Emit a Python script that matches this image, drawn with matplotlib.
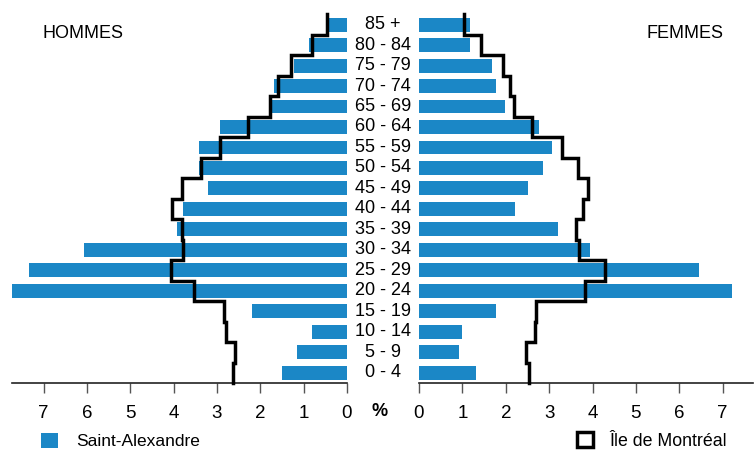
import numpy as np
import matplotlib.pyplot as plt
from matplotlib.patches import Patch

# Age groups, bottom to top
ages = ["0 - 4", "5 - 9", "10 - 14", "15 - 19", "20 - 24", "25 - 29", "30 - 34",
        "35 - 39", "40 - 44", "45 - 49", "50 - 54", "55 - 59", "60 - 64",
        "65 - 69", "70 - 74", "75 - 79", "80 - 84", "85 +"]

# Saint-Alexandre (% of population)
sa_hommes = [1.49, 1.15, 0.80, 2.19, 7.72, 7.34, 6.07, 3.92, 3.78, 3.20,
             3.41, 3.41, 2.93, 1.81, 1.68, 1.22, 0.88, 0.42]
sa_femmes = [1.31, 0.92, 0.99, 1.77, 7.21, 6.45, 3.94, 3.20, 2.21, 2.51,
             2.86, 3.06, 2.76, 1.98, 1.77, 1.68, 1.18, 1.18]

# Ile de Montreal (% of population)
mtl_hommes = [2.62, 2.58, 2.79, 2.83, 3.54, 4.06, 3.78, 3.81, 4.04, 3.80,
              3.36, 2.94, 2.29, 1.77, 1.60, 1.29, 0.81, 0.46]
mtl_femmes = [2.53, 2.46, 2.67, 2.70, 3.82, 4.29, 3.70, 3.63, 3.79, 3.90,
              3.66, 3.29, 2.61, 2.20, 2.09, 1.94, 1.42, 1.04]

ticks = [0, 1, 2, 3, 4, 5, 6, 7]

BLUE = "#1b87c6"
FONT = ["Liberation Sans", "DejaVu Sans"]
NARROW = ["Liberation Sans Narrow", "Liberation Sans", "DejaVu Sans"]

plt.rcParams['font.family'] = FONT

fig = plt.figure(figsize=(7.55, 4.51), dpi=100)
W, H = 755.0, 451.0
bottom = (H - 383) / H
height = 383 / H
axL = fig.add_axes([12 / W, bottom, 335 / W, height])
axR = fig.add_axes([419 / W, bottom, 334 / W, height])

y = np.arange(len(ages))


def step_xy(vals):
    xs = np.repeat(vals, 2)
    ys = np.ravel([[i - 0.5, i + 0.5] for i in range(len(vals))])
    return xs, ys


for ax, sa, mtl, xmax in [(axL, sa_hommes, mtl_hommes, 7.73),
                          (axR, sa_femmes, mtl_femmes, 7.7)]:
    ax.patch.set_visible(False)
    ax.barh(y, sa, height=0.68, color=BLUE, zorder=1)
    xs, ys = step_xy(mtl)
    ax.plot(xs, ys, color="black", lw=2.5, solid_joinstyle="miter", zorder=3, clip_on=False)
    ax.set_ylim(-0.5, 18.2)
    for s in ["top", "left", "right"]:
        ax.spines[s].set_visible(False)
    ax.spines["bottom"].set_color("#222222")
    ax.spines["bottom"].set_linewidth(1.2)
    ax.set_yticks([])
    ax.set_xticks(ticks)
    ax.set_xticklabels([str(t) for t in ticks], family=NARROW, fontsize=13.5)
    ax.tick_params(axis="x", direction="out", length=7, width=1, color="#555555", pad=9)
    if ax is axL:
        ax.set_xlim(xmax, 0)
    else:
        ax.set_xlim(0, xmax)

# age labels in the middle
for i, lab in enumerate(ages):
    axL.annotate(lab, xy=(0, i), xycoords="data", xytext=(26, 0), textcoords="offset points",
                 ha="center", va="center", fontsize=13, annotation_clip=False, zorder=5)

fig.text(380 / W, 1 - 411 / H, "%", ha="center", va="center", fontsize=13, fontweight="bold")
fig.text(43 / W, 1 - 33 / H, "HOMMES", ha="left", va="center", fontsize=13)
fig.text(723 / W, 1 - 33 / H, "FEMMES", ha="right", va="center", fontsize=13)

fig.legend(handles=[Patch(facecolor=BLUE, edgecolor="none")], labels=["Saint-Alexandre"],
           loc="center left", bbox_to_anchor=(41 / W, 1 - 441 / H), frameon=False,
           prop={"family": NARROW, "size": 12.5}, handlelength=1.0, handleheight=1.0,
           handletextpad=1.0, borderpad=0, borderaxespad=0)
fig.legend(handles=[Patch(facecolor="white", edgecolor="black", linewidth=2.5)],
           labels=["\u00cele de Montr\u00e9al"],
           loc="center left", bbox_to_anchor=(577 / W, 1 - 441 / H), frameon=False,
           prop={"family": NARROW, "size": 12.8}, handlelength=0.9, handleheight=0.9,
           handletextpad=0.9, borderpad=0, borderaxespad=0)

fig.savefig("out.png", dpi=100)
